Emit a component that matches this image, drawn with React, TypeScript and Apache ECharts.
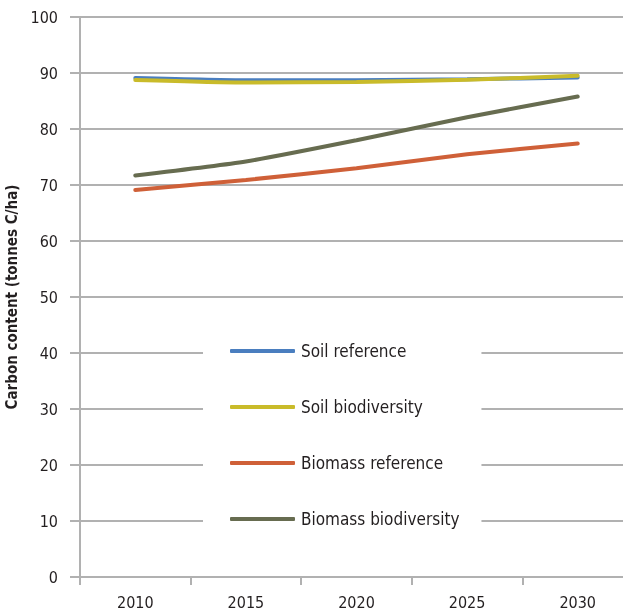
import React, { useEffect, useRef } from "react";
import * as echarts from "echarts";

const years = ["2010", "2015", "2020", "2025", "2030"];
const soilReference = [89.1, 88.7, 88.7, 88.9, 89.2];
const soilBiodiversity = [88.75, 88.3, 88.4, 88.8, 89.5];
const biomassReference = [69.1, 70.9, 73.0, 75.5, 77.4];
const biomassBiodiversity = [71.7, 74.2, 78.0, 82.1, 85.8];
const seriesNames = ["Soil reference", "Soil biodiversity", "Biomass reference", "Biomass biodiversity"];
const yAxisTitle = "Carbon content (tonnes C/ha)";

const FONT = "'Liberation Sans Narrow', 'DejaVu Sans Condensed', 'Roboto Condensed', sans-serif";
const TEXT = "#231f20";
const GRAY = "#b1b1b1";

export default function App() {
  const ref = useRef<HTMLDivElement>(null);
  useEffect(() => {
    if (!ref.current) return;
    const chart = echarts.init(ref.current, null, { renderer: "svg" });
    const colors = ["#4a7ebf", "#c9bb2a", "#cf6038", "#676c50"];
    const data = [soilReference, soilBiodiversity, biomassReference, biomassBiodiversity];
    chart.setOption({
      animation: false,
      textStyle: { fontFamily: FONT },
      grid: { left: 80, top: 17, right: -10, bottom: 36, containLabel: false, outerBoundsMode: "none" },
      legend: {
        orient: "vertical",
        left: 203,
        top: 333,
        backgroundColor: "#ffffff",
        padding: [8, 22, 8, 27],
        itemWidth: 65,
        itemHeight: 4,
        itemGap: 36,
        icon: "roundRect",
        textStyle: { fontFamily: FONT, fontSize: 17, color: TEXT, lineHeight: 20, padding: [0, 0, 0, 1] },
        data: seriesNames,
      },
      xAxis: {
        type: "category",
        data: years,
        boundaryGap: true,
        axisLine: { show: true, lineStyle: { color: GRAY, width: 2 } },
        axisTick: { show: true, length: 8, lineStyle: { color: GRAY, width: 2 } },
        axisLabel: { fontFamily: FONT, fontSize: 16, color: TEXT, margin: 17 },
        splitLine: { show: false },
      },
      yAxis: {
        type: "value",
        min: 0,
        max: 100,
        interval: 10,
        name: yAxisTitle,
        nameLocation: "middle",
        nameGap: 55,
        nameRotate: 90,
        nameTextStyle: { fontFamily: FONT, fontSize: 15, fontWeight: "bold", color: TEXT },
        axisLine: { show: true, lineStyle: { color: GRAY, width: 2 } },
        axisTick: { show: true, length: 10, lineStyle: { color: GRAY, width: 2 } },
        axisLabel: { fontFamily: FONT, fontSize: 16, color: TEXT, margin: 22 },
        splitLine: { show: true, lineStyle: { color: GRAY, width: 2 } },
      },
      series: seriesNames.map((name, i) => ({
        name,
        type: "line",
        data: data[i],
        smooth: 0.2,
        symbol: "none",
        lineStyle: { color: colors[i], width: 4, cap: "round" },
        itemStyle: { color: colors[i] },
      })),
    });
    return () => chart.dispose();
  }, []);
  return <div ref={ref} style={{ position: "fixed", left: 0, top: 0, width: 623, height: 613 }} />;
}
